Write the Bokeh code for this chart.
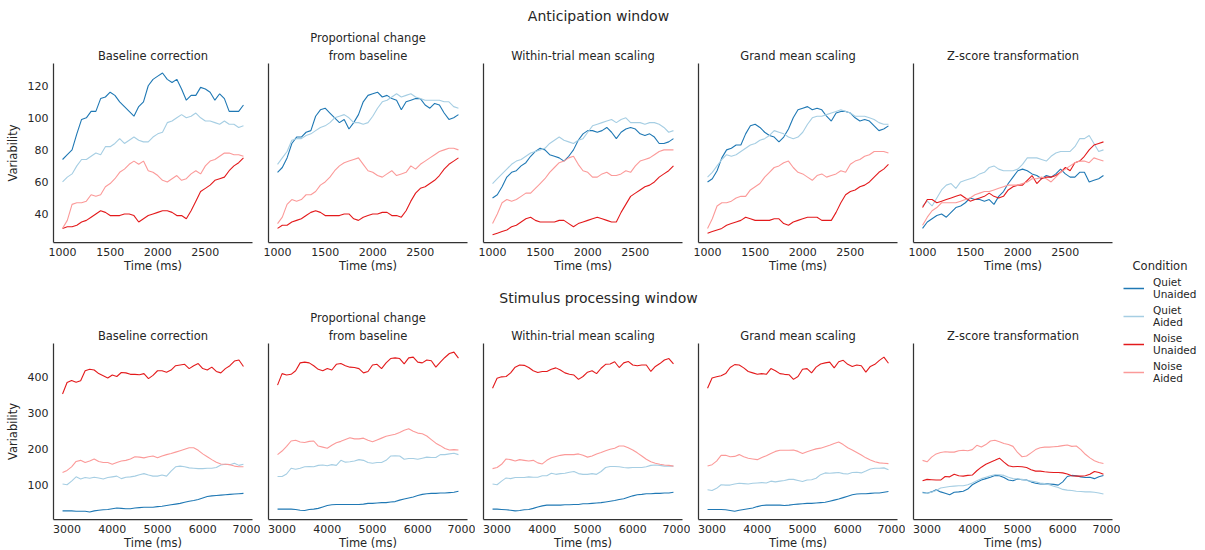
from bokeh.plotting import figure
from bokeh.models import Range1d, FixedTicker, Legend, LegendItem, Title
from bokeh.core.properties import value
from bokeh.layouts import row, column
from bokeh.embed import file_html
from bokeh.resources import INLINE

FONT = "DejaVu Sans"
TXT = "#262626"
SPINE = "#333333"

# ---------------- data ----------------
t_antic = list(range(1000, 2901, 50))
t_stim = list(range(2900, 6901, 100))

conditions = ["Quiet\nUnaided", "Quiet\nAided", "Noise\nUnaided", "Noise\nAided"]
colors = ["#1f78b4", "#a6cee3", "#e31a1c", "#fb9a99"]
panel_titles = [["Baseline correction"], ["Proportional change", "from baseline"],
                ["Within-trial mean scaling"], ["Grand mean scaling"], ["Z-score transformation"]]
row_titles = ["Anticipation window", "Stimulus processing window"]
legend_title = "Condition"
antic_xticks = [1000, 1500, 2000, 2500]
stim_xticks = [3000, 4000, 5000, 6000, 7000]
antic_yticks = [40, 60, 80, 100, 120]
stim_yticks = [100, 200, 300, 400]

# Anticipation window (1000-2900 ms, every 50 ms)
ant_base_qu = [74,77,80,90,99,100,104,104,112,113,116,114,110,107,104,101,107,110,120,124,126,128,124,122,124,118,111,114,114,119,118,116,111,115,112,104,104,104,108]
ant_base_qa = [60,63,65,70,74,74,76,78,77,82,82,84,87,84,86,88,86,85,85,88,90,91,97,98,100,102,100,101,103,100,98,98,97,96,98,96,96,94,95]
ant_base_nu = [31,32,32,33,35,36,38,40,42,41,39,39,39,40,40,39,35,37,39,40,41,42,42,41,39,39,37,42,48,54,56,58,61,62,63,67,70,72,75]
ant_base_na = [31,36,46,47,47,48,52,51,52,57,59,62,66,68,71,73,71,73,67,66,64,61,60,62,64,61,62,65,67,65,70,73,74,76,78,78,77,77,76]

ant_prop_qu = [66,69,75,84,88,88,91,92,101,105,106,103,100,97,99,93,97,102,110,114,115,116,113,114,112,111,105,110,111,112,112,108,106,109,108,103,99,100,102]
ant_prop_qa = [71,75,79,86,87,87,89,90,92,94,95,97,100,101,102,100,97,97,96,97,101,106,110,111,113,115,113,114,115,113,112,111,111,111,111,110,110,107,106]
ant_prop_nu = [31,33,33,35,36,37,39,41,42,41,39,39,39,39,40,40,37,36,38,39,40,40,41,41,39,39,38,42,48,53,56,57,59,61,64,68,71,73,75]
ant_prop_na = [34,38,46,49,48,49,52,52,54,58,60,63,67,70,72,73,74,75,71,67,66,64,63,65,67,64,65,66,70,68,71,73,75,77,79,80,81,81,80]

ant_within_qu = [50,52,57,63,66,67,70,72,76,79,81,80,77,76,75,73,76,80,86,90,92,92,91,92,94,91,87,91,93,94,93,90,89,90,88,84,84,85,87]
ant_within_qa = [59,62,65,68,71,73,74,76,78,79,80,81,84,86,88,86,85,84,86,87,91,95,96,97,98,99,97,99,100,97,97,97,96,97,97,96,94,91,92]
ant_within_nu = [27,28,29,30,32,33,35,37,38,36,35,35,35,35,36,36,34,32,34,35,36,37,38,37,36,35,35,41,46,51,53,55,57,58,60,63,65,67,70]
ant_within_na = [34,40,47,49,48,49,51,53,53,56,59,62,66,69,72,73,75,76,71,67,66,63,63,65,66,64,64,65,67,66,70,73,74,75,77,79,80,80,80]

ant_grand_qu = [60,62,67,75,80,81,83,83,90,95,96,94,91,89,88,85,88,93,100,105,106,107,105,106,105,101,98,103,104,104,103,100,98,99,98,95,92,93,95]
ant_grand_qa = [63,66,70,74,77,76,77,79,81,83,84,86,87,89,92,91,90,88,87,88,91,96,100,101,101,102,103,104,105,104,103,101,101,101,100,99,97,96,96]
ant_grand_nu = [28,29,30,31,33,34,35,36,38,37,36,36,36,36,37,37,34,33,35,36,37,38,38,38,36,36,36,41,47,52,54,55,57,58,60,63,66,68,71]
ant_grand_na = [31,37,45,47,47,48,50,51,51,55,57,59,63,66,69,70,72,73,69,66,65,63,61,64,65,63,64,65,67,66,71,73,74,76,77,79,79,79,78]

ant_z_qu = [31,35,37,39,40,38,41,44,45,47,50,49,49,48,49,46,51,54,59,63,67,68,67,65,64,62,64,63,65,68,65,63,63,66,66,60,61,62,64]
ant_z_qa = [45,48,45,50,55,58,59,56,60,61,62,63,65,66,69,70,68,67,67,67,68,71,75,75,75,74,73,76,78,79,79,79,82,87,87,89,84,79,80]
ant_z_nu = [44,49,49,47,48,49,50,51,52,50,48,49,50,51,53,51,50,51,55,57,58,58,61,64,59,62,63,63,64,66,69,67,72,73,76,80,83,84,85]
ant_z_na = [33,38,42,44,47,47,47,47,48,49,50,52,53,54,54,55,56,57,58,58,58,59,60,62,62,63,62,60,63,66,68,70,72,73,73,72,75,74,73]

# Stimulus processing window (2900-6900 ms, every 100 ms)
stim_base_qu = [27,27,27,26,26,26,24,27,29,30,31,33,35,34,33,33,35,36,37,37,37,39,40,42,44,46,48,51,54,56,59,63,67,69,70,71,72,73,74,75,76]
stim_base_qa = [102,100,110,122,116,120,118,121,119,116,120,122,124,117,121,122,124,128,131,127,124,124,127,124,138,150,152,150,147,146,145,145,146,146,148,155,157,156,160,154,157]
stim_base_nu = [353,385,391,386,390,418,422,420,410,404,398,406,402,413,412,408,408,407,410,396,405,418,418,414,420,432,434,436,424,432,438,424,420,428,416,412,424,432,445,448,430]
stim_base_na = [134,140,150,165,168,162,166,172,165,162,162,157,162,166,168,172,178,177,175,178,180,175,180,184,187,191,195,199,203,203,196,186,178,170,163,158,157,156,152,150,150]

stim_prop_qu = [32,32,32,32,31,29,28,31,32,34,38,42,44,45,45,45,45,45,45,46,48,48,49,50,50,52,53,57,60,63,66,70,73,75,76,76,77,77,78,79,82]
stim_prop_qa = [123,123,130,146,143,146,150,151,150,154,155,153,156,154,168,163,164,166,170,168,162,160,162,162,168,180,181,180,171,173,173,171,174,177,176,176,184,184,186,188,184]
stim_prop_nu = [378,410,406,408,418,440,442,440,432,422,418,424,420,436,438,432,428,427,424,412,416,434,436,424,440,452,454,452,437,454,456,442,440,448,446,428,442,455,466,470,453]
stim_prop_na = [184,194,207,222,224,219,218,221,222,208,205,202,210,217,221,226,231,228,228,230,224,220,225,230,235,238,241,246,252,256,249,244,242,236,226,216,209,201,197,198,197]

stim_within_qu = [32,32,31,30,29,27,28,30,31,34,38,41,43,43,43,43,44,44,45,45,47,47,48,49,50,52,54,56,59,61,65,69,72,73,75,75,76,76,77,77,79]
stim_within_qa = [102,100,110,119,117,120,120,120,122,121,121,125,125,132,129,131,132,135,137,131,129,129,131,129,137,148,151,151,150,148,147,148,148,148,150,154,155,154,152,152,152]
stim_within_nu = [369,397,401,402,412,428,434,433,427,418,413,416,416,422,426,420,412,408,406,394,402,414,418,410,425,436,437,443,427,440,444,434,432,434,434,416,430,438,448,452,437]
stim_within_na = [145,148,157,172,170,166,170,168,166,168,161,158,168,175,179,182,184,184,184,186,182,177,180,186,190,195,199,202,208,208,203,197,189,180,171,164,160,157,155,154,152]

stim_grand_qu = [31,31,31,31,30,28,26,29,31,33,35,39,42,43,43,43,43,42,43,45,46,47,48,48,49,50,51,54,57,60,64,68,72,74,75,75,76,77,77,79,81]
stim_grand_qa = [86,84,90,100,99,99,102,104,103,102,104,105,106,105,110,108,110,112,115,115,112,109,113,114,118,128,133,132,133,134,131,130,134,135,133,138,144,146,146,147,142]
stim_grand_nu = [369,398,401,404,410,427,435,434,426,416,412,408,410,408,424,418,410,408,407,394,402,422,424,412,428,437,440,442,426,443,447,436,430,434,432,414,430,436,447,456,439]
stim_grand_na = [152,156,166,182,182,178,179,184,178,174,172,170,176,181,187,193,196,196,196,197,193,187,192,196,200,202,206,210,215,219,212,203,197,190,183,175,169,164,161,160,159]

stim_z_qu = [79,76,80,86,80,76,72,79,80,82,88,100,107,113,117,121,126,125,120,113,111,116,114,113,108,104,102,103,102,101,99,108,123,126,125,122,120,121,117,122,126]
stim_z_qa = [77,76,79,84,91,93,95,96,97,97,100,105,111,117,121,125,128,128,126,121,117,116,115,112,110,108,105,103,100,96,92,87,85,84,82,81,80,80,79,77,74]
stim_z_nu = [111,115,114,113,113,123,122,129,125,124,126,127,139,149,157,163,168,174,163,153,150,151,150,148,142,138,138,136,135,134,134,133,130,125,124,124,125,129,137,134,129]
stim_z_na = [168,164,177,186,190,192,191,191,195,196,195,198,210,205,212,222,224,220,215,212,207,190,178,180,189,198,203,205,205,206,207,209,211,207,208,198,185,175,167,162,159]

antic_panels = [
    [ant_base_qu, ant_base_qa, ant_base_nu, ant_base_na],
    [ant_prop_qu, ant_prop_qa, ant_prop_nu, ant_prop_na],
    [ant_within_qu, ant_within_qa, ant_within_nu, ant_within_na],
    [ant_grand_qu, ant_grand_qa, ant_grand_nu, ant_grand_na],
    [ant_z_qu, ant_z_qa, ant_z_nu, ant_z_na],
]
stim_panels = [
    [stim_base_qu, stim_base_qa, stim_base_nu, stim_base_na],
    [stim_prop_qu, stim_prop_qa, stim_prop_nu, stim_prop_na],
    [stim_within_qu, stim_within_qa, stim_within_nu, stim_within_na],
    [stim_grand_qu, stim_grand_qa, stim_grand_nu, stim_grand_na],
    [stim_z_qu, stim_z_qa, stim_z_nu, stim_z_na],
]

# ---------------- layout ----------------
FRAME_W = 199
LEFT_FIRST = 53
LEFT_OTHER = 8
RIGHT = 8
ROW_W = (LEFT_FIRST + FRAME_W + RIGHT) + 4 * (LEFT_OTHER + FRAME_W + RIGHT)


def style_title(t, size):
    t.text_font = FONT
    t.text_font_size = size
    t.text_font_style = "normal"
    t.text_color = TXT


def make_panel(i, title_lines, series, xs, xr, yr, xticks, yticks, b_top, frame_h, b_bottom,
               lab_standoff, axlab_standoff):
    first = (i == 0)
    p = figure(frame_width=FRAME_W, frame_height=frame_h, x_range=xr, y_range=yr,
               output_backend="svg", toolbar_location=None,
               min_border_left=LEFT_FIRST if first else LEFT_OTHER, min_border_right=RIGHT,
               min_border_top=b_top, min_border_bottom=b_bottom)
    p.outline_line_color = None
    p.grid.visible = False
    p.background_fill_color = "white"
    p.border_fill_color = "white"

    # the last line sits next to the frame; the plot title is always outermost
    for line in reversed(title_lines[1:]):
        t = Title(text=line, align="center", standoff=2)
        style_title(t, "11.5px")
        p.add_layout(t, "above")
    p.title.text = title_lines[0]
    p.title.align = "center"
    p.title.standoff = 2 if len(title_lines) == 1 else 1
    style_title(p.title, "11.5px")

    for ax in (p.xaxis[0], p.yaxis[0]):
        ax.axis_line_color = SPINE
        ax.axis_line_width = 1.25
        ax.major_tick_in = 0
        ax.major_tick_out = 0
        ax.minor_tick_in = 0
        ax.minor_tick_out = 0
        ax.major_label_text_font = FONT
        ax.major_label_text_font_size = "11px"
        ax.major_label_text_color = TXT
        ax.axis_label_text_font = FONT
        ax.axis_label_text_font_size = "11.5px"
        ax.axis_label_text_font_style = "normal"
        ax.axis_label_text_color = TXT

    p.xaxis.ticker = FixedTicker(ticks=xticks)
    p.xaxis.axis_label = "Time (ms)"
    p.xaxis.major_label_standoff = lab_standoff
    p.xaxis.axis_label_standoff = axlab_standoff

    if first:
        p.yaxis.ticker = FixedTicker(ticks=yticks)
        p.yaxis.axis_label = "Variability"
        p.yaxis.major_label_standoff = 5
        p.yaxis.axis_label_standoff = 5
    else:
        p.yaxis.ticker = FixedTicker(ticks=[])
        p.yaxis.major_label_text_font_size = "0px"

    for ys, c in zip(series, colors):
        p.line(xs, ys, line_color=c, line_width=1.1)
    return p


def blank_fig(width, height):
    p = figure(width=width, height=height, x_range=Range1d(0, width), y_range=Range1d(0, height),
               output_backend="svg", toolbar_location=None, min_border=0,
               x_axis_location=None, y_axis_location=None, title_location=None)
    p.outline_line_color = None
    p.grid.visible = False
    return p


def text_strip(height, text, y):
    p = blank_fig(ROW_W, height)
    p.text(x=[598], y=[y], text=[text], text_font=value(FONT), text_font_size="14px",
           text_color=TXT, text_baseline="middle", text_align="center")
    return p


top_x = Range1d(905, 2995)
top_y = Range1d(22.2, 133.9)
bot_x = Range1d(2700, 7100)
bot_y = Range1d(3, 494)

SA_H = 28
TOP_BT, TOP_FH, TOP_BB = 30, 179, 35
SB_H = 31
BOT_BT, BOT_FH, BOT_BB = 32, 176, 34

top_figs = [make_panel(i, panel_titles[i], antic_panels[i], t_antic, top_x, top_y,
                       antic_xticks, antic_yticks, TOP_BT, TOP_FH, TOP_BB, 5, 0) for i in range(5)]
bot_figs = [make_panel(i, panel_titles[i], stim_panels[i], t_stim, bot_x, bot_y,
                       stim_xticks, stim_yticks, BOT_BT, BOT_FH, BOT_BB, 5, 0) for i in range(5)]

supA = text_strip(SA_H, row_titles[0], SA_H - 15.3)
supB = text_strip(SB_H, row_titles[1], 10.5)

left = column(supA, row(*top_figs), supB, row(*bot_figs))

TOTAL_H = SA_H + TOP_BT + TOP_FH + TOP_BB + SB_H + BOT_BT + BOT_FH + BOT_BB
LEG_W = 80
leg = blank_fig(LEG_W, TOTAL_H)
items = []
for name, c in zip(conditions, colors):
    r = leg.line(x=[0], y=[float("nan")], line_color=c, line_width=1.5)
    items.append(LegendItem(label=name, renderers=[r]))
# legend block top 276 px below the layout top; title centre 265 px below it
legend = Legend(items=items, location=(3, TOTAL_H - 276 - 108), padding=0, margin=0, spacing=4,
                glyph_width=21, glyph_height=24, label_standoff=9,
                label_text_font=FONT, label_text_font_size="10.5px", label_text_color=TXT,
                border_line_alpha=0, background_fill_alpha=0)
leg.add_layout(legend)
leg.text(x=[39.5], y=[TOTAL_H - 265], text=[legend_title], text_font=value(FONT),
         text_font_size="11.5px", text_color=TXT, text_align="center", text_baseline="middle")

layout = row(left, leg)

open("out.html", "w").write(file_html(layout, INLINE))
